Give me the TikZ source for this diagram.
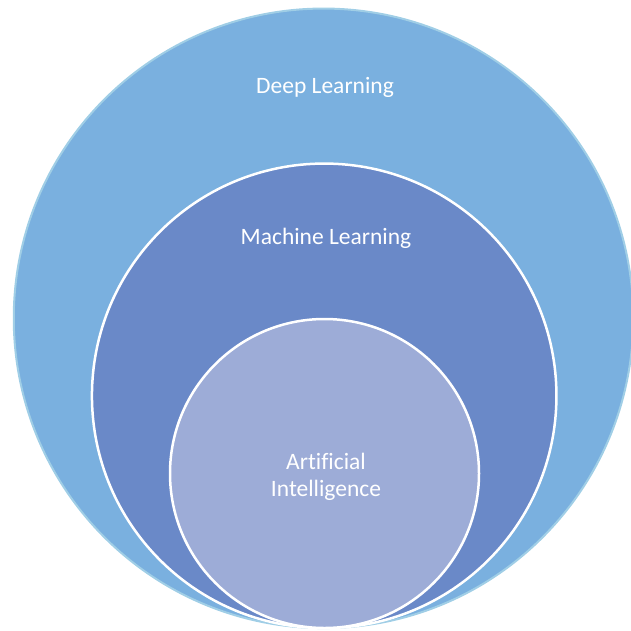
\documentclass[tikz,border=0pt]{standalone}
\usepackage{fontspec}
\setmainfont[Ligatures=NoCommon]{Carlito}
\definecolor{outerfill}{RGB}{122,176,223}
\definecolor{outerline}{RGB}{160,206,230}
\definecolor{midfill}{RGB}{106,137,200}
\definecolor{innerfill}{RGB}{157,172,215}
\tikzset{
  ring/.style={circle, inner sep=0pt, minimum size=#1},
  lbl/.style={text=white, font=\fontsize{23.5}{27}\selectfont, align=center},
}
\begin{document}
\begin{tikzpicture}[x=1pt,y=-1pt]
\useasboundingbox (0,0) rectangle (631,630);
\begin{scope}
\clip (0,0) rectangle (631,630);
\node[ring=619.5pt, fill=outerfill, draw=outerline, line width=2pt] (dl) at (323.5,318.3) {};
\node[ring=464.5pt, fill=midfill, draw=white, line width=2.5pt] (ml) at (324.2,395.8) {};
\node[ring=309pt, fill=innerfill, draw=white, line width=2.5pt] (ai) at (324.5,473.5) {};
\end{scope}
\node[lbl] (tdl) at (325,87) {Deep Learning};
\node[lbl] (tml) at (326,238) {Machine Learning};
\node[lbl] (tai) at (326,477) {Artificial\\Intelligence};
\end{tikzpicture}
\end{document}
